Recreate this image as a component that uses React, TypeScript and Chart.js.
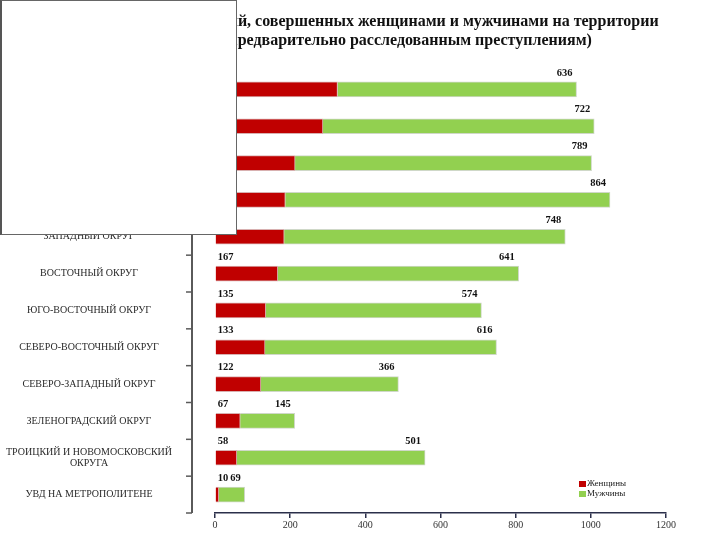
import React, { useEffect, useRef } from 'react';
import { Chart, registerables } from 'chart.js';

Chart.register(...registerables);

const categories: (string | string[])[] = [
  'ЮЖНЫЙ ОКРУГ',
  'СЕВЕРНЫЙ ОКРУГ',
  'ЮГО-ЗАПАДНЫЙ ОКРУГ',
  'ЦЕНТРАЛЬНЫЙ ОКРУГ',
  'ЗАПАДНЫЙ ОКРУГ',
  'ВОСТОЧНЫЙ ОКРУГ',
  'ЮГО-ВОСТОЧНЫЙ ОКРУГ',
  'СЕВЕРО-ВОСТОЧНЫЙ ОКРУГ',
  'СЕВЕРО-ЗАПАДНЫЙ ОКРУГ',
  'ЗЕЛЕНОГРАДСКИЙ ОКРУГ',
  ['ТРОИЦКИЙ И НОВОМОСКОВСКИЙ', 'ОКРУГА'],
  'УВД НА МЕТРОПОЛИТЕНЕ',
];
const women = [326, 287, 213, 187, 184, 167, 135, 133, 122, 67, 58, 10];
const men = [636, 722, 789, 864, 748, 641, 574, 616, 366, 145, 501, 69];
const xTicks = [0, 200, 400, 600, 800, 1000, 1200];
const seriesNames = ['Женщины', 'Мужчины'];
const seriesColors = ['#C00000', '#92D050'];
const titleLines = [
  'Количество преступлений, совершенных женщинами и мужчинами на территории',
  'г. Москвы (по предварительно расследованным преступлениям)',
];

const SERIF = '"Liberation Serif", "Times New Roman", serif';
const PAD_LEFT = 50;
const PLOT_LEFT = 215;

const overlayPlugin = {
  id: 'customDecor',
  afterDatasetsDraw(chart: any) {
    const ctx = chart.ctx;
    const y = chart.scales.y;
    const area = chart.chartArea;
    ctx.save();

    // detached category axis line + ticks
    const axisX = area.left - 23;
    ctx.strokeStyle = '#5a5a5a';
    ctx.lineWidth = 2;
    ctx.beginPath();
    ctx.moveTo(axisX, y.top);
    ctx.lineTo(axisX, y.bottom);
    ctx.stroke();
    const n = categories.length;
    ctx.lineWidth = 1.5;
    for (let k = 0; k <= n; k++) {
      const ty = y.top + (k * (y.bottom - y.top)) / n;
      ctx.beginPath();
      ctx.moveTo(axisX - 6, ty);
      ctx.lineTo(axisX, ty);
      ctx.stroke();
    }

    // category labels
    ctx.fillStyle = '#2a2a2a';
    ctx.font = `10px ${SERIF}`;
    ctx.textAlign = 'center';
    ctx.textBaseline = 'middle';
    categories.forEach((c, i) => {
      const cy = y.getPixelForValue(i);
      const lines = Array.isArray(c) ? c : [c];
      const lh = 11;
      lines.forEach((ln, j) => {
        ctx.fillText(ln, 89, cy + (j - (lines.length - 1) / 2) * lh);
      });
    });

    // value labels
    ctx.font = `bold 10.5px ${SERIF}`;
    ctx.fillStyle = '#111';
    const m0 = chart.getDatasetMeta(0).data;
    const m1 = chart.getDatasetMeta(1).data;
    for (let i = 0; i < n; i++) {
      const b0 = m0[i];
      const b1 = m1[i];
      const top = b0.y - b0.height / 2;
      ctx.textAlign = 'left';
      ctx.fillText(String(women[i]), b0.base + 2, top - 9);
      ctx.textAlign = 'right';
      ctx.fillText(String(men[i]), b1.x - 4, top - 9);
    }

    // legend
    const lx = area.right - 87;
    const ly = area.bottom - 32;
    ctx.font = `9px ${SERIF}`;
    ctx.textAlign = 'left';
    ctx.textBaseline = 'middle';
    seriesNames.forEach((name, i) => {
      ctx.fillStyle = seriesColors[i];
      ctx.fillRect(lx, ly + i * 10, 7, 6);
      ctx.fillStyle = '#222';
      ctx.fillText(name, lx + 8, ly + i * 10 + 3);
    });
    ctx.restore();
  },
};

export default function App() {
  const ref = useRef<HTMLCanvasElement>(null);
  useEffect(() => {
    if (!ref.current) return;
    const chart = new Chart(ref.current, {
      type: 'bar',
      data: {
        labels: categories as any,
        datasets: [
          {
            label: seriesNames[0],
            data: women,
            backgroundColor: seriesColors[0],
            borderColor: '#d8b0b0',
            borderWidth: 1,
            barThickness: 15,
          },
          {
            label: seriesNames[1],
            data: men,
            backgroundColor: seriesColors[1],
            borderColor: '#cfd8c8',
            borderWidth: 1,
            barThickness: 15,
          },
        ],
      },
      options: {
        indexAxis: 'y',
        responsive: false,
        animation: false,
        devicePixelRatio: 1,
        layout: { padding: { left: PAD_LEFT, right: 54, bottom: 8, top: 0 } },
        plugins: {
          legend: { display: false },
          tooltip: { enabled: false },
          title: {
            display: true,
            text: titleLines,
            color: '#111',
            font: { family: SERIF, size: 16, weight: 'bold', lineHeight: 1.2 },
            padding: { top: 12, bottom: 20.6 },
          },
        },
        scales: {
          x: {
            stacked: true,
            min: 0,
            max: 1200,
            afterBuildTicks: (s: any) => {
              s.ticks = xTicks.map((v) => ({ value: v }));
            },
            border: { display: true, color: '#2b2f4a', width: 1.5 },
            grid: {
              display: true,
              drawOnChartArea: false,
              drawTicks: true,
              tickLength: 5,
              color: '#2b2f4a',
              lineWidth: 1.5,
            },
            ticks: {
              color: '#333',
              font: { family: SERIF, size: 10 },
              padding: 1,
              callback: (v: any) => String(v),
            },
          },
          y: {
            stacked: true,
            border: { display: false },
            grid: { display: false, drawTicks: false },
            ticks: { display: false },
            afterFit: (s: any) => {
              s.width = PLOT_LEFT - PAD_LEFT;
            },
          },
        },
      },
      plugins: [overlayPlugin],
    } as any);
    return () => chart.destroy();
  }, []);

  return (
    <div style={{ position: 'fixed', left: 0, top: 0, width: 720, height: 540, background: '#fff' }}>
      <canvas ref={ref} width={720} height={540} style={{ display: 'block' }} />
      <div
        style={{
          position: 'absolute',
          left: 0,
          top: 0,
          width: 237,
          height: 235,
          boxSizing: 'border-box',
          background: '#fff',
          border: '1px solid #666',
          borderLeft: '2px solid #555',
        }}
      />
    </div>
  );
}
